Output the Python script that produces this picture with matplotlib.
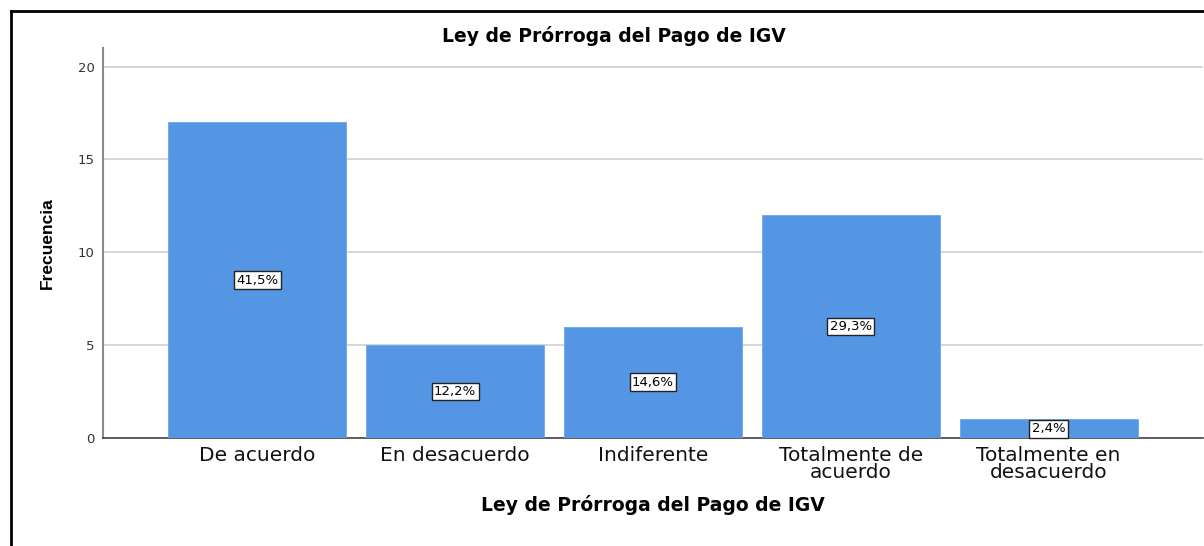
import matplotlib
matplotlib.use("Agg")
import matplotlib.pyplot as plt
from matplotlib.lines import Line2D

categories = ["De acuerdo", "En desacuerdo", "Indiferente",
              "Totalmente de\nacuerdo", "Totalmente en\ndesacuerdo"]
frequencies = [17, 5, 6, 12, 1]
percent_labels = ["41,5%", "12,2%", "14,6%", "29,3%", "2,4%"]
y_ticks = [0, 5, 10, 15, 20]
title = "Ley de Prórroga del Pago de IGV"
x_title = "Ley de Prórroga del Pago de IGV"
y_title = "Frecuencia"

W, H = 1204, 546
fig = plt.figure(figsize=(W / 100, H / 100), dpi=100)
fig.patch.set_facecolor("white")

ax = fig.add_axes([103 / W, 1 - 438 / H, (1203 - 103) / W, (438 - 48) / H])
ax.set_facecolor("white")

x = list(range(len(categories)))
bar_color = "#5596e4"
ax.bar(x, frequencies, width=0.9, color=bar_color, edgecolor="#6aa6ee",
       linewidth=0.6, zorder=3)

for xi, v, lab in zip(x, frequencies, percent_labels):
    ax.text(xi, v / 2, lab, ha="center", va="center", fontsize=9.5,
            family="DejaVu Sans", color="black", zorder=5,
            bbox=dict(boxstyle="square,pad=0.18", facecolor="white",
                      edgecolor="#222222", linewidth=1.0))

ax.set_xlim(-0.78, 4.78)
ax.set_ylim(0, 21.0)
ax.set_yticks(y_ticks)
ax.set_yticklabels([str(t) for t in y_ticks], fontsize=9.5,
                   family="DejaVu Sans", color="#333333")
ax.set_xticks(x)
ax.set_xticklabels(categories, fontsize=14.5, family="DejaVu Sans",
                   color="#111111", linespacing=0.85)
ax.tick_params(axis="both", length=0)
ax.tick_params(axis="x", pad=6)
ax.tick_params(axis="y", pad=6)

ax.yaxis.grid(True, color="#cfcfcf", linewidth=1.2, zorder=0)
ax.set_axisbelow(True)

for s in ["top", "right"]:
    ax.spines[s].set_visible(False)
ax.spines["left"].set_color("#8a8a8a")
ax.spines["left"].set_linewidth(1.5)
ax.spines["bottom"].set_color("#444444")
ax.spines["bottom"].set_linewidth(1.2)

ax.set_xlabel(x_title, fontsize=13.5, fontweight="bold",
              family="DejaVu Sans", color="black")
ax.xaxis.set_label_coords(0.5, -0.145)
ax.set_ylabel(y_title, fontsize=12.5, fontweight="bold",
              family="Liberation Sans", color="black")
ax.yaxis.set_label_coords(-0.044, 0.5)

fig.text(614 / W, 1 - 36 / H, title, ha="center", va="center",
         fontsize=13.5, fontweight="bold", family="DejaVu Sans", color="black")

# outer frame (top and left black border)
fig.add_artist(Line2D([11 / W, 11 / W], [0, 1 - 11 / H], transform=fig.transFigure,
                      color="black", linewidth=2.0))
fig.add_artist(Line2D([11 / W, 1], [1 - 11 / H, 1 - 11 / H], transform=fig.transFigure,
                      color="black", linewidth=2.0))

fig.savefig("out.png", dpi=100, facecolor="white")
